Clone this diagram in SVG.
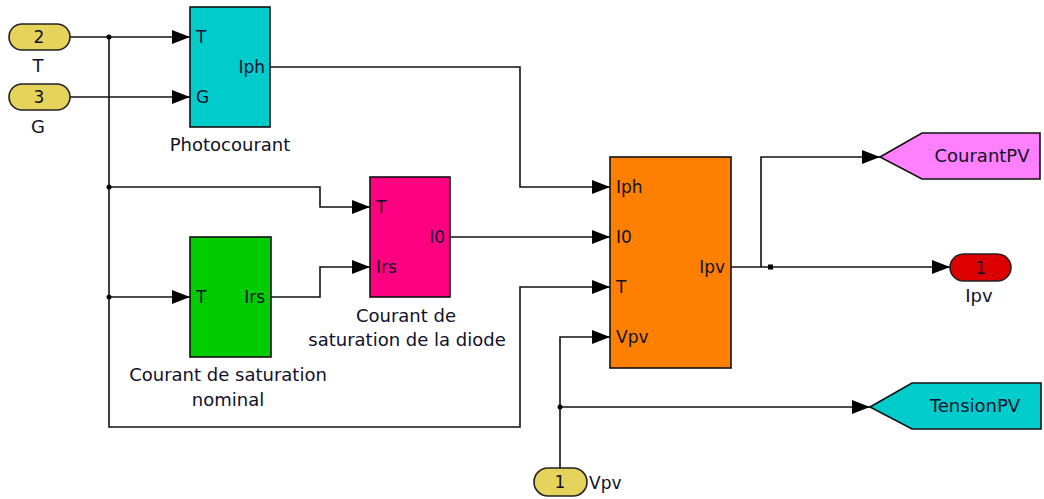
<svg xmlns="http://www.w3.org/2000/svg" width="1044" height="499" viewBox="0 0 1044 499">
<style>
text{font-family:"DejaVu Sans","Liberation Sans",sans-serif;fill:#10102a}
.nm{font-size:18px;text-anchor:middle}
.pt{font-size:17px}
.pr{font-size:17px;text-anchor:end}
.blk{stroke:#111;stroke-width:1.6}
.pill{fill:#e6d35c;stroke:#222;stroke-width:1.6}
.w{fill:none;stroke:#111;stroke-width:1.6}
.dot{fill:#000}
</style>
<defs>
<marker id="ah" markerUnits="userSpaceOnUse" markerWidth="18" markerHeight="14" refX="18" refY="7" orient="auto">
<path d="M0,0 L18,7 L0,14 z" fill="#000"/>
</marker>
</defs>
<rect width="1044" height="499" fill="#fff"/>

<g id="connectors">
<path class="w" d="M70,37 H190" marker-end="url(#ah)"/>
<path class="w" d="M70,97 H190" marker-end="url(#ah)"/>
<path class="w" d="M109,37 V427 H520 V287 H610" marker-end="url(#ah)"/>
<path class="w" d="M270,67 H520 V187 H610" marker-end="url(#ah)"/>
<path class="w" d="M109,187 H320 V207 H370" marker-end="url(#ah)"/>
<path class="w" d="M109,297 H190" marker-end="url(#ah)"/>
<path class="w" d="M271,297 H320 V267 H370" marker-end="url(#ah)"/>
<path class="w" d="M450,237 H610" marker-end="url(#ah)"/>
<path class="w" d="M730,267 H950" marker-end="url(#ah)"/>
<path class="w" d="M761,267 V157 H880" marker-end="url(#ah)"/>
<path class="w" d="M560,468 V337 H610" marker-end="url(#ah)"/>
<path class="w" d="M560,407 H870" marker-end="url(#ah)"/>
<circle class="dot" cx="109" cy="37" r="2.5"/>
<circle class="dot" cx="109" cy="187" r="2.5"/>
<circle class="dot" cx="109" cy="297" r="2.5"/>
<rect class="dot" x="768" y="264.5" width="5" height="5"/>
<circle class="dot" cx="560" cy="407" r="2.5"/>
</g>

<g id="in2">
<rect class="pill" x="9" y="24" width="61" height="26" rx="13"/>
<text class="nm" x="39" y="43" style="font-size:17px">2</text>
<text class="nm" x="38" y="72">T</text>
</g>
<g id="in3">
<rect class="pill" x="9" y="84" width="61" height="26" rx="13"/>
<text class="nm" x="39" y="103" style="font-size:17px">3</text>
<text class="nm" x="38" y="133">G</text>
</g>

<g id="photocourant">
<rect class="blk" x="190" y="7" width="80" height="120" fill="#00cccc"/>
<text class="pt" x="196" y="43">T</text>
<text class="pt" x="196" y="103">G</text>
<text class="pr" x="265" y="73">Iph</text>
<text class="nm" x="230" y="151">Photocourant</text>
</g>

<g id="courant_sat_diode">
<rect class="blk" x="370" y="177" width="80" height="120" fill="#ff0080"/>
<text class="pt" x="376" y="213">T</text>
<text class="pt" x="376" y="273">Irs</text>
<text class="pr" x="445" y="243">I0</text>
<text class="nm" x="406" y="322">Courant de</text>
<text class="nm" x="407" y="346">saturation de la diode</text>
</g>

<g id="courant_sat_nominal">
<rect class="blk" x="190" y="237" width="81" height="120" fill="#00cc00"/>
<text class="pt" x="196" y="303">T</text>
<text class="pr" x="265" y="303">Irs</text>
<text class="nm" x="228" y="381">Courant de saturation</text>
<text class="nm" x="228" y="406">nominal</text>
</g>

<g id="pv">
<rect class="blk" x="610" y="157" width="121" height="211" fill="#ff8000"/>
<text class="pt" x="616" y="193">Iph</text>
<text class="pt" x="616" y="243">I0</text>
<text class="pt" x="616" y="293">T</text>
<text class="pt" x="616" y="343">Vpv</text>
<text class="pr" x="725" y="273">Ipv</text>
</g>

<g id="goto_courant">
<polygon class="blk" points="880,157 922,133 1040,133 1040,179 922,179" fill="#ff80ff"/>
<text class="nm" x="982" y="162">CourantPV</text>
</g>

<g id="out_ipv">
<rect x="950" y="254" width="61" height="27" rx="13.5" fill="#dd0000" stroke="#222" stroke-width="1.6"/>
<text class="nm" x="981" y="274" style="font-size:17px">1</text>
<text class="nm" x="979" y="302">Ipv</text>
</g>

<g id="goto_tension">
<polygon class="blk" points="870,407 912,383 1041,383 1041,429 912,429" fill="#00cccc"/>
<text class="nm" x="975" y="412">TensionPV</text>
</g>

<g id="in_vpv">
<rect class="pill" x="534" y="468" width="53" height="28" rx="14"/>
<text class="nm" x="560" y="488" style="font-size:17px">1</text>
<text class="pt" x="589" y="489">Vpv</text>
</g>
</svg>
